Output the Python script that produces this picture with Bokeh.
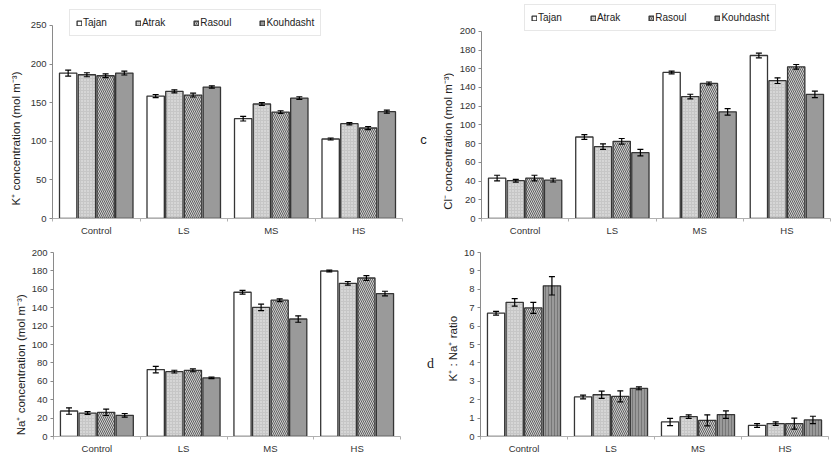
import math
from bokeh.plotting import figure
from bokeh.models import (ColumnDataSource, Range1d, FixedTicker, Whisker, TeeHead,
                          Legend, LegendItem, Label)
from bokeh.layouts import column, row
from bokeh.embed import file_html
from bokeh.resources import INLINE

categories = ["Control", "LS", "MS", "HS"]
varieties = ["Tajan", "Atrak", "Rasoul", "Kouhdasht"]

# K+ concentration (mol m-3): rows = varieties, cols = categories
k_values = [[188.4, 158.6, 129.3, 103.0],
            [186.2, 164.7, 148.3, 122.8],
            [184.9, 159.9, 137.9, 117.2],
            [188.4, 170.3, 156.0, 138.4]]
k_errors = [[3.9, 2.0, 3.0, 1.3],
            [2.6, 2.0, 1.7, 1.5],
            [2.5, 2.5, 1.7, 2.0],
            [2.5, 1.5, 1.7, 2.0]]

# Cl- concentration (mol m-3)
cl_values = [[43.2, 87.1, 156.1, 174.2],
             [40.4, 76.8, 130.3, 147.3],
             [43.2, 82.5, 144.4, 162.1],
             [41.0, 70.4, 114.0, 132.7]]
cl_errors = [[3.0, 2.5, 1.5, 2.5],
             [1.5, 3.0, 2.5, 3.0],
             [3.0, 3.0, 1.5, 2.5],
             [2.0, 3.5, 3.5, 3.5]]

# Na+ concentration (mol m-3)
na_values = [[27.7, 72.7, 156.8, 179.9],
             [25.5, 70.5, 140.3, 166.5],
             [26.3, 71.9, 148.2, 172.3],
             [23.0, 63.7, 127.7, 155.4]]
na_errors = [[3.5, 3.5, 2.0, 1.0],
             [1.5, 1.5, 3.5, 2.0],
             [3.5, 1.5, 1.5, 2.5],
             [2.0, 0.8, 3.5, 2.5]]

# K+ : Na+ ratio
ratio_values = [[6.70, 2.15, 0.79, 0.60],
                [7.29, 2.27, 1.08, 0.70],
                [6.99, 2.18, 0.88, 0.70],
                [8.19, 2.62, 1.19, 0.90]]
ratio_errors = [[0.10, 0.10, 0.20, 0.10],
                [0.20, 0.20, 0.10, 0.10],
                [0.30, 0.30, 0.30, 0.30],
                [0.50, 0.08, 0.20, 0.20]]

FONT = "Liberation Sans"
STEP = 0.214
BAR_W = 0.198

STYLES = [
    dict(fill_color="white"),
    dict(fill_color="#c6c6c6", hatch_pattern="dot", hatch_color="#eeeeee", hatch_scale=3),
    dict(fill_color="#d0d0d0", hatch_pattern="left_diagonal_line", hatch_color="#606060",
         hatch_scale=4, hatch_weight=1.0),
    dict(fill_color="#9a9a9a"),
]


def title_strip(width, height, labels):
    """Narrow figure (no axes) that carries the rotated y-axis title and panel letter."""
    s = figure(width=width, height=height, output_backend="svg", toolbar_location=None,
               x_range=Range1d(0, width), y_range=Range1d(0, height),
               x_axis_location=None, y_axis_location=None,
               min_border_left=0, min_border_right=0, min_border_top=0, min_border_bottom=0)
    s.outline_line_color = None
    s.grid.visible = False
    s.background_fill_color = "white"
    s.border_fill_color = "white"
    for text, x, y, size, font, rotate in labels:
        s.add_layout(Label(x=x, y=y, text=text, angle=math.pi / 2 if rotate else 0,
                           text_align="center", text_baseline="middle",
                           text_font=font, text_font_size=size, text_color="#222222"))
    return s


def make_panel(values, errors, width, height, borders, y_end, bound, ticks,
               legend_xy=None, kouh_vertical=False):
    bl, br, bt, bb = borders
    p = figure(width=width, height=height, output_backend="svg", toolbar_location=None,
               x_range=Range1d(0, 4), y_range=Range1d(0, y_end),
               min_border_left=bl, min_border_right=br, min_border_top=bt,
               min_border_bottom=bb)
    p.outline_line_color = None
    p.grid.visible = False
    p.background_fill_color = "white"
    p.border_fill_color = "white"

    items = []
    for j, name in enumerate(varieties):
        xs = [i + 0.5 + (j - 1.5) * STEP for i in range(len(categories))]
        vals = values[j]
        errs = errors[j]
        src = ColumnDataSource(dict(
            x=xs, top=vals,
            upper=[v + e for v, e in zip(vals, errs)],
            lower=[v - e for v, e in zip(vals, errs)]))
        style = dict(STYLES[j])
        if j == 3 and kouh_vertical:
            style.update(hatch_pattern="vertical_line", hatch_color="#777777", hatch_scale=3)
        r = p.vbar(x="x", top="top", bottom=0, width=BAR_W, source=src,
                   line_color="#353535", line_width=1.3, **style)
        w = Whisker(source=src, base="x", upper="upper", lower="lower",
                    line_color="black", line_width=1.2,
                    upper_head=TeeHead(size=6, line_color="black", line_width=1.2),
                    lower_head=TeeHead(size=6, line_color="black", line_width=1.2))
        w.level = "annotation"
        p.add_layout(w)
        items.append(LegendItem(label=name, renderers=[r]))

    if legend_xy is not None:
        lg = Legend(items=items, location=legend_xy, orientation="horizontal",
                    glyph_width=6, glyph_height=6, label_standoff=1, spacing=28,
                    padding=6, label_height=13, margin=0,
                    label_text_font=FONT, label_text_font_size="10px",
                    label_text_color="#222222",
                    border_line_color="#cfcfcf", border_line_width=1,
                    background_fill_color="white", background_fill_alpha=1.0)
        p.add_layout(lg)

    ya = p.yaxis[0]
    ya.ticker = FixedTicker(ticks=ticks)
    ya.bounds = (0, bound)
    ya.axis_line_color = "#8a8a8a"
    ya.major_tick_line_color = "#8a8a8a"
    ya.major_tick_out = 3
    ya.major_tick_in = 0
    ya.minor_tick_line_color = None
    ya.major_label_standoff = 3
    ya.major_label_text_font = FONT
    ya.major_label_text_font_size = "9.5px"
    ya.major_label_text_color = "#333333"

    xa = p.xaxis[0]
    xa.ticker = FixedTicker(ticks=[i + 0.5 for i in range(len(categories))],
                            minor_ticks=list(range(len(categories) + 1)))
    xa.major_label_overrides = {i + 0.5: c for i, c in enumerate(categories)}
    xa.axis_line_color = "#b0b0b0"
    xa.major_tick_line_color = None
    xa.major_tick_out = 3
    xa.major_tick_in = 0
    xa.minor_tick_line_color = "#b0b0b0"
    xa.minor_tick_out = 3
    xa.minor_tick_in = 0
    xa.major_label_standoff = 3
    xa.major_label_text_font = FONT
    xa.major_label_text_font_size = "9.5px"
    xa.major_label_text_color = "#333333"
    return p


TITLE_SIZE = "11.5px"

# top-left: K+
s1 = title_strip(26, 238, [("K\u207a concentration (mol m\u207b\u00b3)", 15, 89, TITLE_SIZE, FONT, True)])
p1 = make_panel(k_values, k_errors, 392, 238, (26, 16, 4, 20), 277.2, 250,
                [0, 50, 100, 150, 200, 250], legend_xy=(17, 182))

# top-right: Cl-
s2 = title_strip(36, 238, [("Cl\u207b concentration (mol m\u207b\u00b3)", 29, 86, TITLE_SIZE, FONT, True),
                           ("c", 5, 88, "13px", FONT, False)])
p2 = make_panel(cl_values, cl_errors, 383, 238, (27, 7, 4, 19), 228.7, 200,
                list(range(0, 201, 20)), legend_xy=(43, 187))

# bottom-left: Na+
s3 = title_strip(28, 218, [("Na\u207a concentration (mol m\u207b\u00b3)", 20, 85, TITLE_SIZE, FONT, True)])
p3 = make_panel(na_values, na_errors, 390, 218, (25, 18, 14, 18), 200, 200,
                list(range(0, 201, 20)))

# bottom-right: K+/Na+
s4 = title_strip(41, 218, [("K\u207a : Na\u207a ratio", 34, 104, TITLE_SIZE, FONT, True),
                           ("d", 12, 87, "14px", "Liberation Serif", False)])
p4 = make_panel(ratio_values, ratio_errors, 378, 218, (21, 9, 14, 19), 10, 10,
                list(range(0, 11)), kouh_vertical=True)

layout = column(row(s1, p1, s2, p2), row(s3, p3, s4, p4))
open("out.html", "w").write(file_html(layout, INLINE))
